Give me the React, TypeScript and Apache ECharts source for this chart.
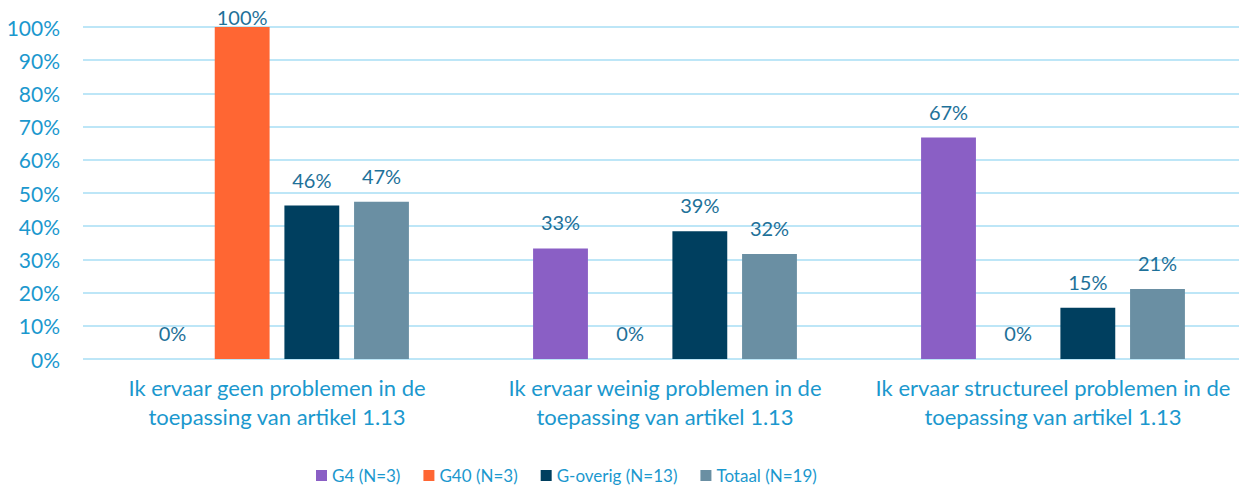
import React, { useEffect, useRef } from "react";
import * as echarts from "echarts";

const categories = [
  "Ik ervaar geen problemen in de\ntoepassing van artikel 1.13",
  "Ik ervaar weinig problemen in de\ntoepassing van artikel 1.13",
  "Ik ervaar structureel problemen in de\ntoepassing van artikel 1.13",
];
const seriesNames = ["G4 (N=3)", "G40 (N=3)", "G-overig (N=13)", "Totaal (N=19)"];
const g4 = [0, 33.3, 66.7];
const g40 = [100, 0, 0];
const gOverig = [46.2, 38.5, 15.4];
const totaal = [47.4, 31.6, 21.1];
const colors = ["#8A5FC5", "#FF6633", "#003F5F", "#6A8FA3"];
const yTicks = [0, 10, 20, 30, 40, 50, 60, 70, 80, 90, 100];

const FONT = "Lato, 'Open Sans', sans-serif";
const AXIS_COLOR = "#1B98CE";
const LABEL_COLOR = "#1E7199";

export default function App() {
  const ref = useRef<HTMLDivElement>(null);
  useEffect(() => {
    if (!ref.current) return;
    const chart = echarts.init(ref.current, undefined, { renderer: "svg" });
    const all = [g4, g40, gOverig, totaal];
    chart.setOption({
      animation: false,
      textStyle: { fontFamily: FONT },
      color: colors,
      grid: { left: 83, right: 0, top: 27, bottom: 127, containLabel: false },
      legend: {
        top: 462,
        left: 311,
        itemWidth: 11,
        itemHeight: 11,
        itemGap: 23,
        icon: "rect",
        textStyle: { color: AXIS_COLOR, fontSize: 17, fontFamily: FONT },
        data: seriesNames,
      },
      xAxis: {
        type: "category",
        data: categories,
        axisLine: { show: false },
        axisTick: { show: false },
        axisLabel: {
          color: AXIS_COLOR,
          fontSize: 22,
          lineHeight: 29,
          margin: 14,
          interval: 0,
          fontFamily: FONT,
        },
      },
      yAxis: {
        type: "value",
        min: 0,
        max: 100,
        interval: 10,
        axisLine: { show: false },
        axisTick: { show: false },
        axisLabel: {
          color: AXIS_COLOR,
          fontSize: 21,
          margin: 23,
          fontFamily: FONT,
          formatter: (v: number) => (yTicks.includes(v) ? v + "%" : ""),
        },
        splitLine: { lineStyle: { color: "#BDE6F7", width: 2 } },
      },
      series: all.map((arr, i) => ({
        name: seriesNames[i],
        type: "bar",
        barGap: "27%",
        barCategoryGap: "32%",
        itemStyle: { color: colors[i] },
        label: {
          show: true,
          position: "top",
          distance: 16,
          color: LABEL_COLOR,
          fontSize: 20,
          fontFamily: FONT,
          formatter: (p: any) => Math.round(p.value) + "%",
        },
        data: arr.map((v) =>
          v >= 100 ? { value: v, label: { distance: 0 } } : v
        ),
      })),
    });
    return () => chart.dispose();
  }, []);
  return (
    <div
      ref={ref}
      style={{ width: 1247, height: 486, margin: "-8px 0 0 -8px" }}
    />
  );
}
